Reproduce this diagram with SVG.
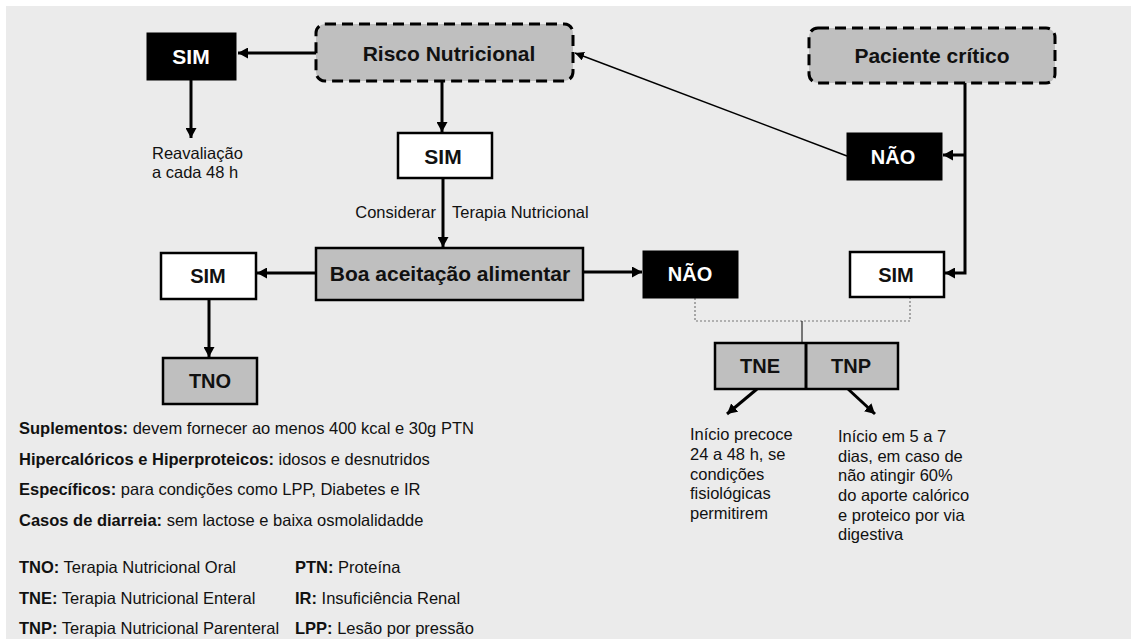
<svg xmlns="http://www.w3.org/2000/svg" width="1131" height="639" viewBox="0 0 1131 639">
<style>
.bg{fill:#ebebeb}
.dash{fill:#bfbfbf;stroke:#000;stroke-width:3;stroke-dasharray:11 6}
.grey{fill:#bfbfbf;stroke:#000;stroke-width:2.5}
.blk{fill:#000;stroke:#000;stroke-width:1}
.wht{fill:#fff;stroke:#000;stroke-width:2.5}
.t{font-family:"Liberation Sans",Arial,sans-serif;fill:#111}
.b{font-weight:bold}
.big{font-size:21px;font-weight:bold;text-anchor:middle}
.mid{font-size:20px;font-weight:bold;text-anchor:middle}
.w{fill:#fff}
.s{font-size:16.5px}
.l{font-size:16.5px}
.ln{stroke:#000;stroke-width:3;fill:none}
.thin{stroke:#000;stroke-width:1.5;fill:none}
.dot{stroke:#777;stroke-width:1.2;stroke-dasharray:2 2;fill:none}
</style>
<defs>
<marker id="ah" markerUnits="userSpaceOnUse" markerWidth="11" markerHeight="11" refX="10" refY="5.5" orient="auto"><path d="M0,0 L10,5.5 L0,11 z" fill="#000"/></marker>
<marker id="ahs" markerUnits="userSpaceOnUse" markerWidth="10" markerHeight="9" refX="9" refY="4.5" orient="auto"><path d="M0,0 L9,4.5 L0,9 z" fill="#000"/></marker>
</defs>
<rect class="bg" x="6" y="6" width="1125" height="633"/>

<g id="connectors">
<line class="ln" x1="316" y1="53" x2="238" y2="53" marker-end="url(#ah)"/>
<line class="ln" x1="191" y1="80" x2="191" y2="138" marker-end="url(#ah)"/>
<line class="ln" x1="442" y1="81" x2="442" y2="132" marker-end="url(#ah)"/>
<line class="ln" x1="443" y1="178" x2="443" y2="247" marker-end="url(#ah)"/>
<line class="ln" x1="316" y1="273" x2="257" y2="273" marker-end="url(#ah)"/>
<line class="ln" x1="209" y1="299" x2="209" y2="357" marker-end="url(#ah)"/>
<line class="ln" x1="583" y1="272" x2="642" y2="272" marker-end="url(#ah)"/>
<line class="thin" x1="847" y1="156" x2="575" y2="53" marker-end="url(#ahs)"/>
<polyline class="ln" points="965,83 965,273 945,273" marker-end="url(#ah)"/>
<line class="ln" x1="965" y1="155" x2="943" y2="155" marker-end="url(#ah)"/>
<polyline class="dot" points="695,298 695,321 910,321 910,297"/>
<line stroke="#000" stroke-width="1" x1="802" y1="321" x2="802" y2="343"/>
<line class="ln" x1="757" y1="389" x2="727" y2="414" marker-end="url(#ah)"/>
<line class="ln" x1="848" y1="389" x2="875" y2="414" marker-end="url(#ah)"/>
</g>

<g id="risco">
<rect class="dash" x="316" y="24" width="257" height="57" rx="9"/>
<text class="t big" x="449" y="61">Risco Nutricional</text>
</g>
<g id="sim-black">
<rect class="blk" x="147" y="33" width="89" height="47"/>
<text class="t big w" x="191" y="64">SIM</text>
</g>
<g id="reavaliacao">
<text class="t s" x="152" y="159">Reavaliação</text>
<text class="t s" x="152" y="178">a cada 48 h</text>
</g>
<g id="sim-white-top">
<rect class="wht" x="398" y="133" width="94" height="45"/>
<text class="t big" x="443" y="164">SIM</text>
</g>
<g id="considerar">
<text class="t s" x="436" y="218" text-anchor="end">Considerar</text>
<text class="t s" x="452" y="218">Terapia Nutricional</text>
</g>
<g id="paciente">
<rect class="dash" x="809" y="28" width="246" height="55" rx="9"/>
<text class="t big" x="932" y="63">Paciente crítico</text>
</g>
<g id="nao-top">
<rect class="blk" x="847" y="133" width="95" height="47"/>
<text class="t mid w" x="893" y="164">NÃO</text>
</g>
<g id="boa">
<rect class="grey" x="316" y="248" width="267" height="52"/>
<text class="t big" x="450" y="281">Boa aceitação alimentar</text>
</g>
<g id="sim-white-left">
<rect class="wht" x="161" y="253" width="95" height="46"/>
<text class="t mid" x="208" y="283">SIM</text>
</g>
<g id="tno">
<rect class="grey" x="163" y="358" width="94" height="46"/>
<text class="t mid" x="210" y="388">TNO</text>
</g>
<g id="nao-mid">
<rect class="blk" x="643" y="251" width="95" height="47"/>
<text class="t mid w" x="690" y="281">NÃO</text>
</g>
<g id="sim-white-right">
<rect class="wht" x="850" y="252" width="94" height="45"/>
<text class="t mid" x="896" y="282">SIM</text>
</g>
<g id="tne-tnp">
<rect class="grey" x="715" y="343" width="183" height="46" stroke-width="3"/>
<line stroke="#000" stroke-width="3" x1="806" y1="343" x2="806" y2="389"/>
<text class="t mid" x="760" y="373">TNE</text>
<text class="t mid" x="851" y="373">TNP</text>
</g>
<g id="tne-text">
<text class="t s" x="690" y="440">Início precoce</text>
<text class="t s" x="690" y="460">24 a 48 h, se</text>
<text class="t s" x="690" y="480">condições</text>
<text class="t s" x="690" y="499">fisiológicas</text>
<text class="t s" x="690" y="519">permitirem</text>
</g>
<g id="tnp-text">
<text class="t s" x="838" y="442">Início em 5 a 7</text>
<text class="t s" x="838" y="462">dias, em caso de</text>
<text class="t s" x="838" y="481">não atingir 60%</text>
<text class="t s" x="838" y="501">do aporte calórico</text>
<text class="t s" x="838" y="521">e proteico por via</text>
<text class="t s" x="838" y="540">digestiva</text>
</g>
<g id="legend">
<text class="t l" x="19" y="434"><tspan class="b">Suplementos:</tspan> devem fornecer ao menos 400 kcal e 30g PTN</text>
<text class="t l" x="19" y="465"><tspan class="b">Hipercalóricos e Hiperproteicos:</tspan> idosos e desnutridos</text>
<text class="t l" x="19" y="495"><tspan class="b">Específicos:</tspan> para condições como LPP, Diabetes e IR</text>
<text class="t l" x="19" y="526"><tspan class="b">Casos de diarreia:</tspan> sem lactose e baixa osmolalidadde</text>
<text class="t l" x="19" y="573"><tspan class="b">TNO:</tspan> Terapia Nutricional Oral</text>
<text class="t l" x="19" y="604"><tspan class="b">TNE:</tspan> Terapia Nutricional Enteral</text>
<text class="t l" x="19" y="634"><tspan class="b">TNP:</tspan> Terapia Nutricional Parenteral</text>
<text class="t l" x="295" y="573"><tspan class="b">PTN:</tspan> Proteína</text>
<text class="t l" x="295" y="604"><tspan class="b">IR:</tspan> Insuficiência Renal</text>
<text class="t l" x="295" y="634"><tspan class="b">LPP:</tspan> Lesão por pressão</text>
</g>
</svg>
